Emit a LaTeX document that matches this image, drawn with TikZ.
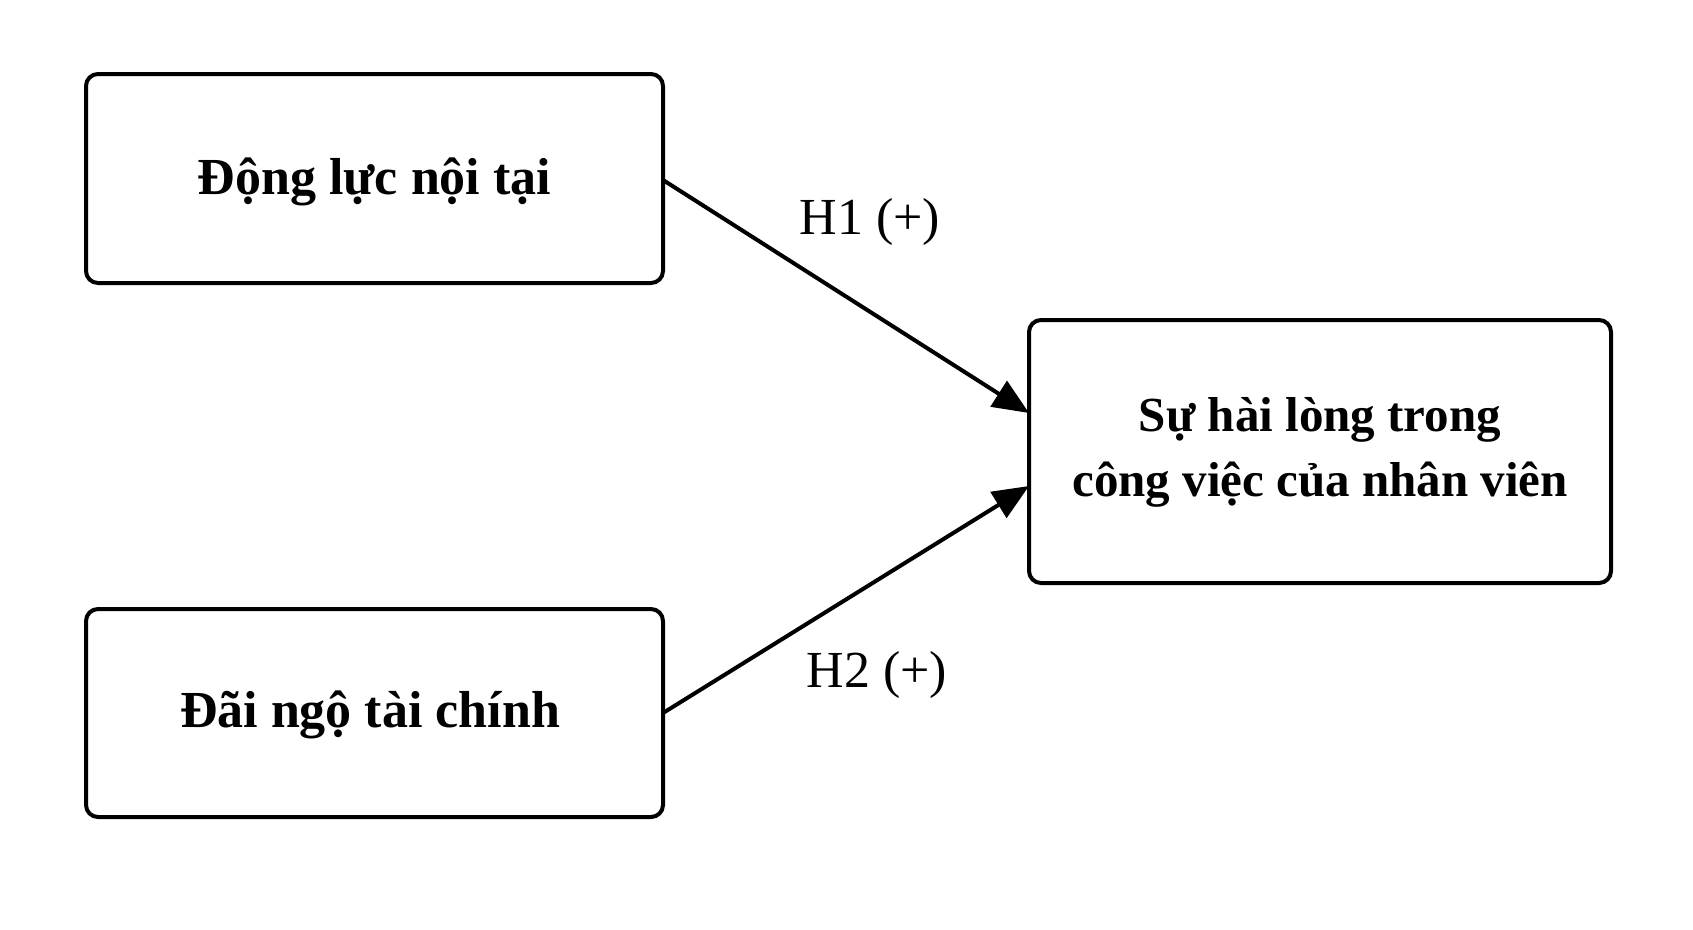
\documentclass[tikz,border=0pt]{standalone}
\usepackage{fontspec}
\setmainfont{Liberation Serif}
\usetikzlibrary{arrows.meta}
\begin{document}
\begin{tikzpicture}[x=1pt,y=-1pt,
  box/.style={draw=black,line width=4pt,rounded corners=12pt,fill=white},
  boxtext/.style={font=\fontsize{52}{65}\selectfont\bfseries,align=center},
  boxtextsmall/.style={font=\fontsize{49}{65}\selectfont\bfseries,align=center},
  hlabel/.style={font=\fontsize{52}{56}\selectfont},
  conn/.style={line width=4pt,-{Triangle[length=36pt,width=30pt]}}]
\fill[white] (0,0) rectangle (1693,929);
\useasboundingbox (0,0) rectangle (1693,929);
\draw[box] (86,74) rectangle (663,283);
\node[boxtext] (a) at (374.5,182) {Động lực nội tại};
\draw[box] (86,609) rectangle (663,817);
\node[boxtext] (b) at (370,715) {Đãi ngộ tài chính};
\draw[box] (1029,320) rectangle (1611,583);
\node[boxtextsmall] (c) at (1320,452) {Sự hài lòng trong\\công việc của nhân viên};
\coordinate (a1) at (663,180);
\coordinate (b1) at (663,713);
\coordinate (c1) at (1029,413);
\coordinate (c2) at (1029,486);
\draw[conn] (a1) -- (c1);
\draw[conn] (b1) -- (c2);
\node[hlabel] (h1) at (870,222) {H1 (+)};
\node[hlabel] (h2) at (877,675) {H2 (+)};
\end{tikzpicture}
\end{document}
